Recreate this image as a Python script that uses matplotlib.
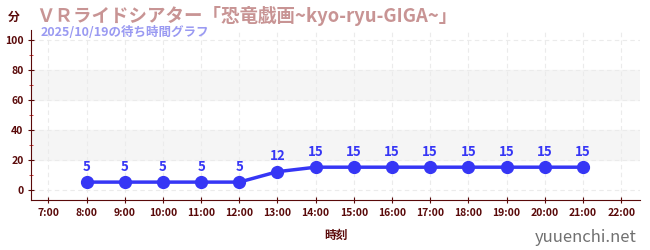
import matplotlib
matplotlib.use('Agg')
import matplotlib.pyplot as plt
from matplotlib.ticker import MultipleLocator

plt.rcParams['font.family'] = ['Noto Sans CJK JP', 'DejaVu Sans']

hours = [8, 9, 10, 11, 12, 13, 14, 15, 16, 17, 18, 19, 20, 21]
waits = [5, 5, 5, 5, 5, 12, 15, 15, 15, 15, 15, 15, 15, 15]
tick_hours = list(range(7, 23))
tick_labels = ['%d:00' % h for h in tick_hours]

title = 'ＶＲライドシアター「恐竜戯画~kyo-ryu-GIGA~」'
subtitle = '2025/10/19の待ち時間グラフ'

dark = '#5a0a0a'
blue = '#3636f5'

fig = plt.figure(figsize=(6.5, 2.5), dpi=100)
ax = fig.add_axes([0.048, 0.2, 0.937, 0.68])

ax.set_xlim(6.55, 22.5)
ax.set_ylim(-7, 107)
for lo, hi in [(20, 40), (60, 80)]:
    ax.axhspan(lo, hi, color='#f5f5f5', zorder=0)
ax.grid(True, color='#ebebeb', linestyle=(0, (4, 3)), linewidth=0.8)
ax.set_axisbelow(True)

ax.plot(hours, waits, color=blue, linewidth=2.5, marker='o', markersize=8.5, zorder=3)
for h, w in zip(hours, waits):
    ax.annotate(str(w), (h, w), textcoords='offset points', xytext=(0, 6),
                ha='center', va='bottom', color=blue, fontsize=9.5, fontweight='bold')

ax.set_xticks(tick_hours)
ax.set_xticklabels(tick_labels)
ax.set_yticks([0, 20, 40, 60, 80, 100])
ax.yaxis.set_minor_locator(MultipleLocator(10))
ax.tick_params(axis='both', colors=dark, labelsize=7.5, length=4, direction='inout')
ax.tick_params(axis='y', which='minor', colors='#cc2222', length=3, direction='inout')
for lab in ax.get_xticklabels() + ax.get_yticklabels():
    lab.set_fontweight('bold')
for s in ['top', 'right']:
    ax.spines[s].set_visible(False)
ax.spines['left'].set_color(dark)
ax.spines['bottom'].set_color(dark)

ax.set_xlabel('時刻', color=dark, fontsize=8.5, fontweight='bold', labelpad=8)
fig.text(0.012, 0.93, '分', color=dark, fontsize=8.5, fontweight='bold', va='center')
fig.text(0.055, 0.935, title, color='#c89494', fontsize=13.3, fontweight='bold', va='center')
fig.text(0.062, 0.868, subtitle, color='#9a9af2', fontsize=9, fontweight='bold', va='center')
fig.text(0.98, 0.05, 'yuuenchi.net', color='#707070', fontsize=12, ha='right', va='center')

fig.savefig('out.png', dpi=100)
